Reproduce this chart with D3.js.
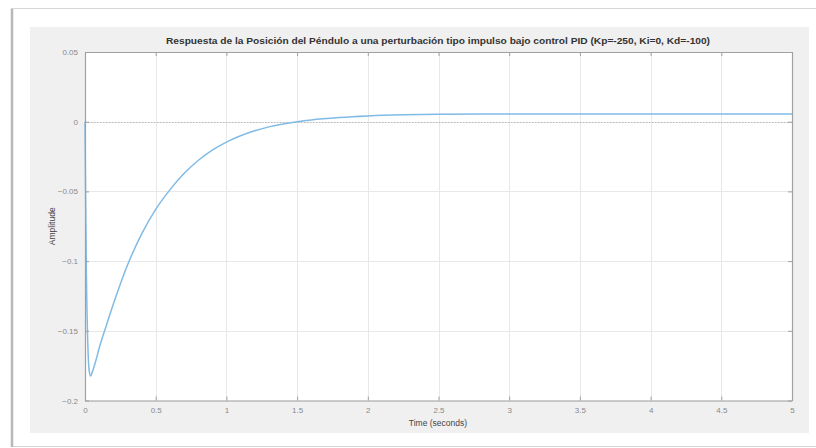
<!DOCTYPE html>
<html>
<head>
<meta charset="utf-8">
<script src="https://cdn.jsdelivr.net/npm/d3@7"></script>
<style>
  html, body { margin: 0; padding: 0; background: #fff; }
  svg { display: block; font-family: "Liberation Sans", Arial, sans-serif; }
</style>
</head>
<body>
<div id="chart"></div>
<script>
// Impulse response
const timeValues = [0, 0.005, 0.01, 0.02, 0.03, 0.04, 0.05, 0.075, 0.1, 0.15, 0.2, 0.3, 0.4, 0.5,
    0.6, 0.7, 0.8, 0.9, 1.0, 1.1, 1.2, 1.3, 1.4, 1.5, 1.6, 1.8, 2.0, 2.25, 2.5, 3, 3.5, 4, 4.5, 5];
const amplitudeValues = [0, -0.06, -0.11, -0.16, -0.179, -0.1825, -0.180, -0.172, -0.1625, -0.1465, -0.131,
    -0.103, -0.0806, -0.0629, -0.0489, -0.0372, -0.0278, -0.0204, -0.0146, -0.0101, -0.0065, -0.0037,
    -0.0016, 0.0, 0.0013, 0.003, 0.0041, 0.0049, 0.0053, 0.0055, 0.0055, 0.0055, 0.0055, 0.0055];
const xTicks = [0, 0.5, 1, 1.5, 2, 2.5, 3, 3.5, 4, 4.5, 5];
const yTicks = [-0.2, -0.15, -0.1, -0.05, 0, 0.05];

const titleText = "Respuesta de la Posición del Péndulo a una perturbación tipo impulso bajo control PID (Kp=-250, Ki=0, Kd=-100)";

const W = 816, H = 448;
const plot = { left: 85, top: 52, right: 792, bottom: 400.5 };

const svg = d3.select("#chart").append("svg")
    .attr("width", W)
    .attr("height", H);

// Outer card
svg.append("rect")
    .attr("x", 11.5).attr("y", 8.5)
    .attr("width", W).attr("height", 438)
    .attr("fill", "#fff")
    .attr("stroke", "#d6d6d6");
svg.append("line")
    .attr("x1", 12).attr("x2", 12)
    .attr("y1", 9).attr("y2", 447)
    .attr("stroke", "#b8b8b8")
    .attr("stroke-width", 2.5);

// Figure background
svg.append("rect")
    .attr("x", 30).attr("y", 27)
    .attr("width", 779).attr("height", 406)
    .attr("fill", "#f0f0f0");

const x = d3.scaleLinear().domain([0, 5]).range([plot.left, plot.right]);
const y = d3.scaleLinear().domain([-0.2, 0.05]).range([plot.bottom, plot.top]);

// Axes area
svg.append("rect")
    .attr("x", plot.left).attr("y", plot.top)
    .attr("width", plot.right - plot.left)
    .attr("height", plot.bottom - plot.top)
    .attr("fill", "#fff");

// Grid
const grid = svg.append("g").attr("stroke", "#e8e8e8").attr("stroke-width", 1);
xTicks.forEach(t => {
    grid.append("line")
        .attr("x1", Math.round(x(t)) + 0.5).attr("x2", Math.round(x(t)) + 0.5)
        .attr("y1", plot.top).attr("y2", plot.bottom);
});
yTicks.forEach(t => {
    grid.append("line")
        .attr("x1", plot.left).attr("x2", plot.right)
        .attr("y1", Math.round(y(t)) + 0.5).attr("y2", Math.round(y(t)) + 0.5);
});

// Dotted zero reference line
svg.append("line")
    .attr("x1", plot.left).attr("x2", plot.right)
    .attr("y1", Math.round(y(0)) + 0.5).attr("y2", Math.round(y(0)) + 0.5)
    .attr("stroke", "#b0b0b0")
    .attr("stroke-width", 0.8)
    .attr("stroke-dasharray", "1.5,1.5");

// Response line
const data = timeValues.map((t, i) => ({ t: t, v: amplitudeValues[i] }));
svg.append("path")
    .datum(data)
    .attr("fill", "none")
    .attr("stroke", "#80bbe6")
    .attr("stroke-width", 1.5)
    .attr("d", d3.line().x(d => x(d.t)).y(d => y(d.v)).curve(d3.curveMonotoneX));

// Axes: ticks inward on all four sides
const tickLen = 4;
const axisColor = "#a0a0a0";
svg.append("g")
    .attr("transform", `translate(0,${plot.bottom})`)
    .call(d3.axisBottom(x).tickValues(xTicks).tickSizeInner(-tickLen).tickSizeOuter(0).tickPadding(7)
        .tickFormat(d3.format("~g")));
svg.append("g")
    .attr("transform", `translate(${plot.left},0)`)
    .call(d3.axisLeft(y).tickValues(yTicks).tickSizeInner(-tickLen).tickSizeOuter(0).tickPadding(7)
        .tickFormat(d => d3.format("~g")(d).replace("-", "\u2212")));
svg.append("g")
    .attr("transform", `translate(0,${plot.top})`)
    .call(d3.axisTop(x).tickValues(xTicks).tickSizeInner(-tickLen).tickSizeOuter(0).tickFormat(""));
svg.append("g")
    .attr("transform", `translate(${plot.right},0)`)
    .call(d3.axisRight(y).tickValues(yTicks).tickSizeInner(-tickLen).tickSizeOuter(0).tickFormat(""));

svg.selectAll(".domain").attr("stroke", axisColor).attr("stroke-width", 1.2);
svg.selectAll(".tick line").attr("stroke", axisColor);
svg.selectAll(".tick text")
    .attr("fill", "#8a8a8a")
    .attr("font-size", "8px")
    .attr("font-family", "Liberation Sans, Arial, sans-serif");

// Title
svg.append("text")
    .attr("x", 438)
    .attr("y", 44)
    .attr("text-anchor", "middle")
    .attr("font-size", "9px")
    .attr("font-weight", "bold")
    .attr("fill", "#333")
    .attr("textLength", 544)
    .attr("lengthAdjust", "spacingAndGlyphs")
    .text(titleText);

// Axis labels
svg.append("text")
    .attr("x", 438)
    .attr("y", 426)
    .attr("text-anchor", "middle")
    .attr("font-size", "8.5px")
    .attr("fill", "#444")
    .text("Time (seconds)");

svg.append("text")
    .attr("transform", `translate(55,${(plot.top + plot.bottom) / 2}) rotate(-90)`)
    .attr("text-anchor", "middle")
    .attr("font-size", "8.5px")
    .attr("fill", "#444")
    .text("Amplitude");
</script>
</body>
</html>
